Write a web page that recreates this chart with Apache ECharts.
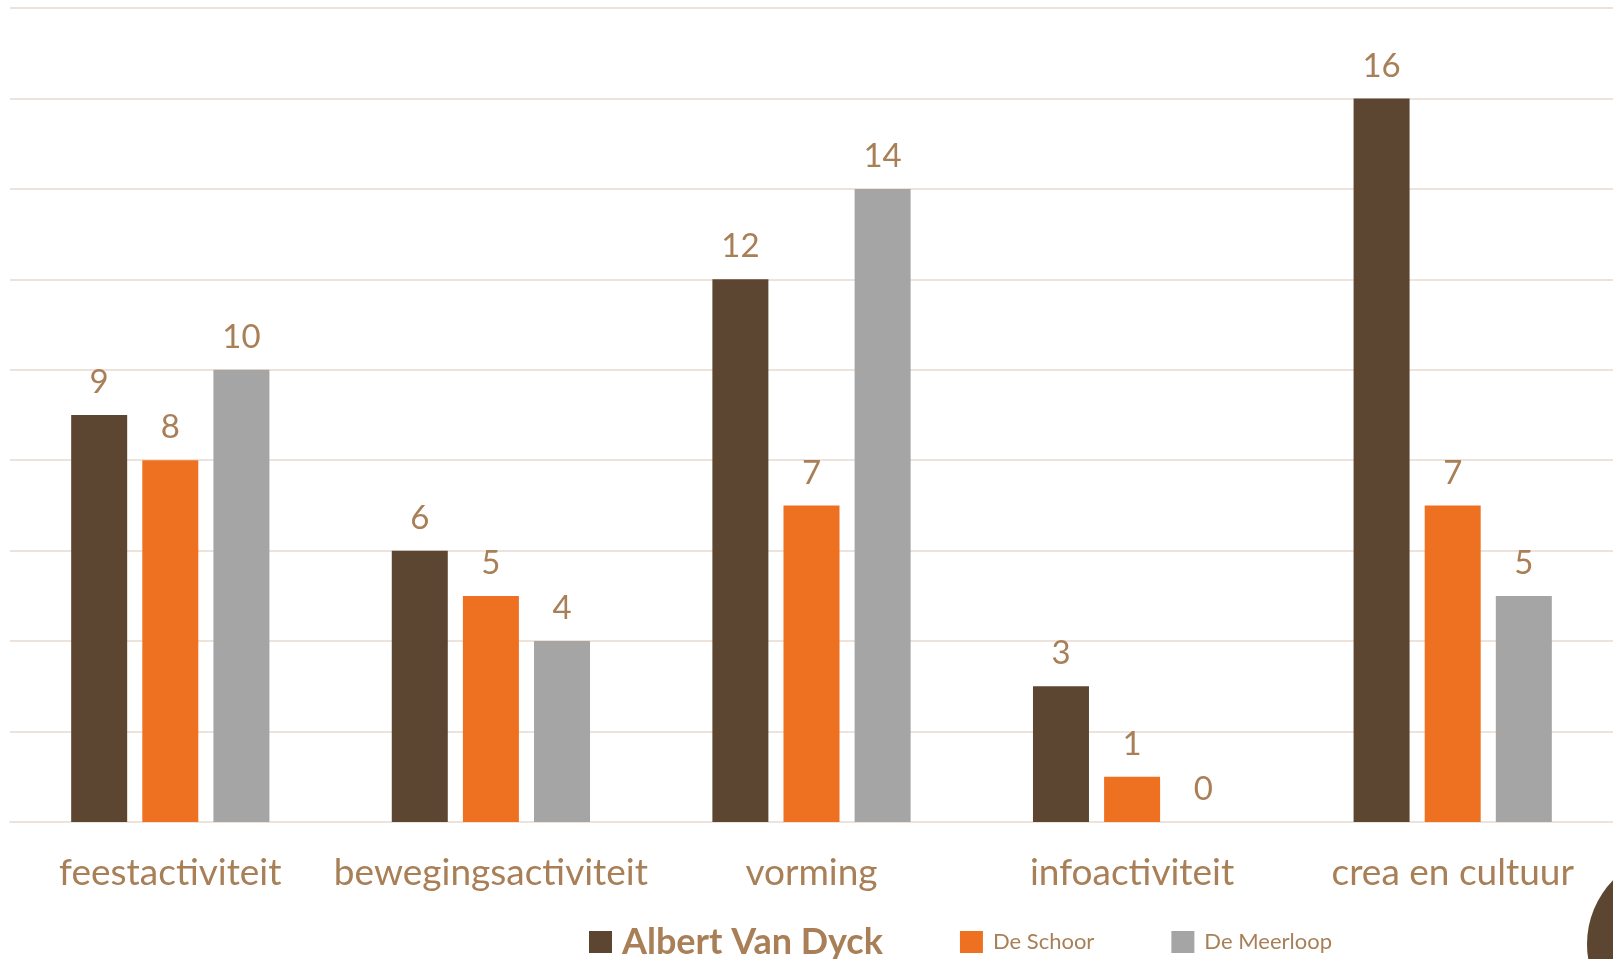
<!DOCTYPE html>
<html>
<head>
<meta charset="utf-8">
<style>html,body{margin:0;padding:0;background:#fff;}#c{width:1613px;height:959px;}</style>
<script src="https://cdn.jsdelivr.net/npm/echarts@6/dist/echarts.min.js"></script>
</head>
<body>
<div id="c"></div>
<script>
var categories = ['feestactiviteit', 'bewegingsactiviteit', 'vorming', 'infoactiviteit', 'crea en cultuur'];
var seriesNames = ['Albert Van Dyck', 'De Schoor', 'De Meerloop'];
var albertVanDyck = [9, 6, 12, 3, 16];
var deSchoor = [8, 5, 7, 1, 7];
var deMeerloop = [10, 4, 14, 0, 5];
var colors = ['#5C4631', '#EE7122', '#A5A5A5'];
var textColor = '#A87F56';
var font = 'Lato, "Open Sans", sans-serif';

var chart = echarts.init(document.getElementById('c'));
function mk(name, data, color) {
  return {
    name: name, type: 'bar', data: data, barWidth: 56, barGap: '27%',
    itemStyle: { color: color },
    label: { show: true, position: 'top', distance: 16, color: textColor, fontSize: 33, fontFamily: font },
    emphasis: { disabled: true }
  };
}
chart.setOption({
  animation: false,
  textStyle: { fontFamily: font },
  grid: { left: 10, right: -5, top: 8, bottom: 137, containLabel: false },
  legend: {
    data: seriesNames, left: 584, top: 919, itemGap: 77, itemWidth: 23, itemHeight: 22, icon: 'rect',
    selectedMode: false,
    formatter: function (n) { return n === 'Albert Van Dyck' ? '{a|' + n + '}' : '{b|' + n + '}'; },
    textStyle: {
      color: textColor, fontFamily: font,
      rich: {
        a: { fontSize: 36, fontWeight: 'bold', color: textColor, fontFamily: font, padding: [0, 0, 0, 5] },
        b: { fontSize: 22, color: textColor, fontFamily: font, padding: [0, 0, 0, 5] }
      }
    }
  },
  xAxis: {
    type: 'category', data: categories,
    axisLine: { show: true, lineStyle: { color: '#EEE3DA', width: 2 } },
    axisTick: { show: false },
    axisLabel: { color: textColor, fontSize: 37, fontFamily: font, margin: 33, interval: 0 }
  },
  yAxis: {
    type: 'value', min: 0, max: 18, interval: 2,
    axisLabel: { show: false }, axisLine: { show: false }, axisTick: { show: false },
    splitLine: { lineStyle: { color: '#EEE3DA', width: 2 } }
  },
  series: [
    mk(seriesNames[0], albertVanDyck, colors[0]),
    mk(seriesNames[1], deSchoor, colors[1]),
    mk(seriesNames[2], deMeerloop, colors[2])
  ],
  graphic: [{
    type: 'circle', shape: { cx: 1678, cy: 944, r: 91 },
    style: { fill: '#5C4631' }, silent: true
  }]
});
</script>
</body>
</html>
